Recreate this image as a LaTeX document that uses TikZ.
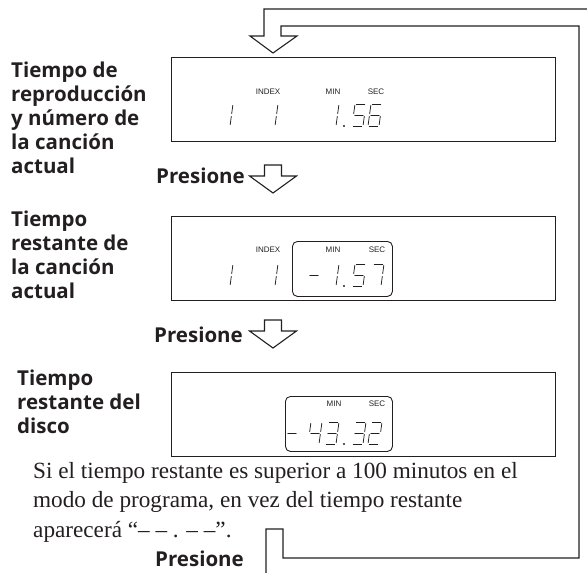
\documentclass[tikz,border=0pt]{standalone}
\usepackage{fontspec}
\setmainfont{Liberation Serif}
\setsansfont{Open Sans}
\newfontfamily\tagfont{Liberation Sans}
\usetikzlibrary{positioning}
\definecolor{ink}{HTML}{231F20}
\tikzset{
  panel/.style={draw=ink, line width=1.1pt, anchor=north west, inner sep=0pt, minimum width=384pt, minimum height=84pt},
  subbox/.style={draw=ink, line width=0.9pt, rounded corners=5pt, anchor=north west, inner sep=0pt, minimum height=55pt},
  tag/.style={font=\tagfont\fontsize{8}{9}\selectfont, text=ink, inner sep=0pt},
  caption/.style={font=\sffamily\bfseries\fontsize{20.5}{24}\selectfont, text=ink, align=left, anchor=north west, inner sep=0pt},
  press/.style={font=\sffamily\bfseries\fontsize{20.5}{24}\selectfont, text=ink, anchor=base east, inner sep=0pt},
  note/.style={font=\fontsize{23.2}{29.5}\selectfont, text=ink, align=left, anchor=north west, inner sep=0pt},
  hollow/.style={draw=ink, line width=1.1pt, line join=miter},
  segline/.style={draw=ink, line width=0.75pt, line cap=round, shorten <=1.3pt, shorten >=1.3pt},
  pressarrow/.pic={\draw[hollow] (-8.5,0) -- (8.5,0) -- (8.5,11) -- (23.5,11) -- (0,28) -- (-23.5,11) -- (-8.5,11) -- cycle;}
}
% segment lists of the display digits
\newcommand{\digone}{TR/MR,MR/BR}
\newcommand{\digtwo}{TL/TR,TR/MR,ML/MR,ML/BL,BL/BR}
\newcommand{\digthree}{TL/TR,TR/MR,ML/MR,MR/BR,BL/BR}
\newcommand{\digfour}{TL/ML,ML/MR,TR/MR,MR/BR}
\newcommand{\digfive}{TL/TR,TL/ML,ML/MR,MR/BR,BL/BR}
\newcommand{\digsix}{TL/TR,TL/ML,ML/MR,MR/BR,BL/BR,ML/BL}
\newcommand{\digseven}{TL/TR,TR/MR,MR/BR}
\newcommand{\digminus}{ML/MR}
\newcommand{\segdigit}[3]{%
  \begin{scope}[shift={(#1,#2)}]
    \coordinate (TL) at (3,-22); \coordinate (TR) at (14,-22);
    \coordinate (ML) at (1.5,-11); \coordinate (MR) at (12.5,-11);
    \coordinate (BL) at (0,0); \coordinate (BR) at (11,0);
    \foreach \p/\q in #3 {\draw[segline] (\p) -- (\q);}
  \end{scope}}

\begin{document}
\begin{tikzpicture}[x=1pt, y=-1pt]
\useasboundingbox (0,0) rectangle (587,573);
\clip (0,0) rectangle (587,573);

% panels
\node[panel] (p1) at (171,57) {};
\node[panel, below=74pt of p1] (p2) {};
\node[panel, below=71pt of p2] (p3) {};
\node[subbox, minimum width=100pt] (s2) at (292,241) {};
\node[subbox, minimum width=107pt] (s3) at (285,396) {};

% labels in the display
\node[tag] (ix1) at (268,92) {INDEX};
\node[tag] (mn1) at (333,92) {MIN};
\node[tag] (sc1) at (376,92) {SEC};
\node[tag] (ix2) at (268,250) {INDEX};
\node[tag] (mn2) at (333,250) {MIN};
\node[tag] (sc2) at (377,250) {SEC};
\node[tag] (mn3) at (334,404) {MIN};
\node[tag] (sc3) at (377,404) {SEC};

% digits
\segdigit{219}{126}{\digone}
\segdigit{264}{126}{\digone}
\segdigit{325}{126}{\digone}
\segdigit{352}{126}{\digfive}
\segdigit{368}{126}{\digsix}
\fill[ink] (344,126) circle (1.1pt);

\segdigit{219}{286}{\digone}
\segdigit{264}{286}{\digone}
\segdigit{307}{286}{\digminus}
\segdigit{325}{286}{\digone}
\segdigit{352}{286}{\digfive}
\segdigit{370}{286}{\digseven}
\fill[ink] (344,286) circle (1.1pt);

\segdigit{285}{444}{\digminus}
\segdigit{308}{444}{\digfour}
\segdigit{325}{444}{\digthree}
\segdigit{352}{444}{\digthree}
\segdigit{368}{444}{\digtwo}
\fill[ink] (344,444) circle (1.1pt);

% side captions
\node[caption] (c1) at (11,62) {Tiempo de\\reproducción\\y número de\\la canción\\actual};
\node[caption] (c2) at (11,211) {Tiempo\\restante de\\la canción\\actual};
\node[caption] (c3) at (17,370) {Tiempo\\restante del\\disco};

% press steps
\node[press] (pr1) at (245,183) {Presione};
\node[press] (pr2) at (243,342) {Presione};
\node[press] (pr3) at (244,566) {Presione};
\pic at (273,165) {pressarrow};
\pic at (273,320) {pressarrow};

% return loop
\draw[hollow] (266,529) -- (283,529) -- (283,558) -- (579,558) -- (579,26) -- (281,26)
  -- (281,36) -- (297,36) -- (273,53) -- (250,36) -- (264,36) -- (264,9) -- (596,9)
  -- (596,575) -- (266,575) -- cycle;

% note
\node[note] (nt) at (33,462) {Si el tiempo restante es superior a 100 minutos en el\\modo de programa, en vez del tiempo restante\\aparecerá “– – . – –”.};
\end{tikzpicture}
\end{document}
